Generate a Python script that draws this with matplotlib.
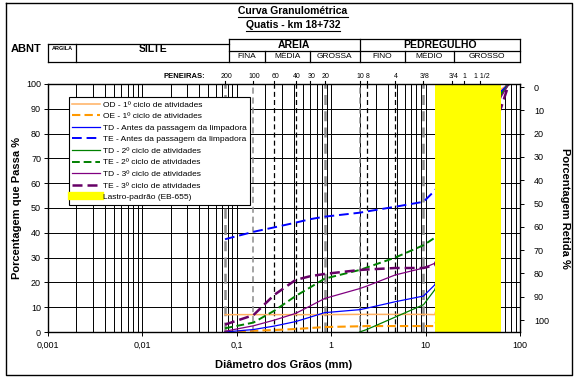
import numpy as np
import matplotlib
matplotlib.use('Agg')
import matplotlib.pyplot as plt
from matplotlib.lines import Line2D

plt.rcParams['font.family'] = ['Liberation Sans', 'DejaVu Sans']

# ---------------- data ----------------
sieve_mm = [0.075, 0.15, 0.25, 0.42, 0.6, 0.85, 2.0, 2.38, 4.76, 9.5, 12.5, 63.5, 76.2]
od1      = [7.0, 7.0, 7.0, 7.0, 7.0, 7.0, 7.1, 7.1, 7.1, 7.1, 7.0, 98, 100]
oe1      = [0.0, 0.5, 0.8, 1.2, 1.6, 2.0, 2.3, 2.4, 2.4, 2.4, 2.4, 97, 100]
td_antes = [0.0, 1.0, 2.4, 4.2, 6.0, 7.8, 9.0, 9.6, 12.2, 14.5, 19.0, 97, 100]
te_antes = [37.4, 40.4, 42.2, 44.1, 45.5, 46.5, 48.1, 48.6, 50.5, 52.5, 57.0, 97, 100]
td2      = [np.nan, np.nan, np.nan, np.nan, np.nan, np.nan, 0.0, 1.0, 6.0, 11.0, 17.0, 96, 100]
te2      = [1.5, 3.8, 8.6, 14.5, 18.0, 21.5, 25.0, 26.0, 30.0, 35.0, 38.0, 96, 100]
td3      = [0.3, 2.5, 4.8, 7.5, 10.5, 13.5, 17.5, 18.5, 23.0, 25.8, 27.7, 95, 100]
te3      = [3.0, 6.8, 15.0, 21.0, 22.5, 23.4, 25.0, 25.2, 25.8, 25.8, 27.0, 90.8, 100]

series_labels = ['OD - 1º ciclo de atividades', 'OE - 1º ciclo de atividades',
                 'TD - Antes da passagem da limpadora', 'TE - Antes da passagem da limpadora',
                 'TD - 2º ciclo de atividades', 'TE - 2º ciclo de atividades',
                 'TD - 3º ciclo de atividades', 'TE - 3º ciclo de atividades']
lastro_label = 'Lastro-padrão (EB-655)'
lastro_range = [12.5, 63.5]

sieve_names = ['200', '100', '60', '40', '30', '20', '10', '8', '4', '3/8', '3/4', '1', '1 1/2']
sieve_pos   = [0.075, 0.15, 0.25, 0.42, 0.6, 0.85, 2.0, 2.38, 4.76, 9.5, 19.1, 25.4, 38.1]
gray_dash   = [0.075, 0.15, 0.85, 2.0, 9.5]
gray_thick  = [0.075, 0.85, 9.5]
black_dash  = [0.25, 0.42, 2.38, 4.76]

x_ticks  = [0.001, 0.01, 0.1, 1, 10, 100]
x_labels = ['0,001', '0,01', '0,1', '1', '10', '100']

# ABNT classification limits (mm)
abnt_argila = [0.001, 0.002]
abnt_silte = [0.002, 0.083]
abnt_areia = [0.083, 0.2, 0.6, 2.0]
abnt_pedr = [2.0, 6.0, 20.0, 100.0]
areia_sub = ['FINA', 'MÉDIA', 'GROSSA']
pedr_sub = ['FINO', 'MÉDIO', 'GROSSO']

# ---------------- figure ----------------
W, H = 575, 377
fig = plt.figure(figsize=(W / 100, H / 100), dpi=100)
L, R, B, T = 48, 520, 332, 84
ax = fig.add_axes([L / W, 1 - B / H, (R - L) / W, (B - T) / H])
ax.set_xscale('log')
ax.set_xlim(0.001, 100)
ax.set_ylim(0, 100)

minor = [k * 10.0 ** n for n in range(-3, 2) for k in range(2, 10)]
ax.set_xticks(x_ticks)
ax.set_xticklabels(x_labels)
ax.set_xticks(minor, minor=True)
ax.xaxis.set_minor_formatter(matplotlib.ticker.NullFormatter())
ax.set_yticks(range(0, 101, 10))
for xv in x_ticks + minor:
    ax.axvline(xv, color='black', lw=0.7, zorder=1)
for yv in range(10, 101, 10):
    ax.axhline(yv, color='black', lw=0.7, zorder=1)

for xv in gray_dash:
    ax.axvline(xv, color='#8c8c8c', lw=1.8 if xv in gray_thick else 1.1,
               ls=(0, (4, 2.5)), zorder=2)
for xv in black_dash:
    ax.axvline(xv, color='black', lw=0.9, ls=(0, (4, 2.5)), zorder=2)

ax.tick_params(axis='both', which='major', labelsize=6.5, length=3, width=0.7)
ax.tick_params(axis='x', which='major', pad=3.5)
ax.tick_params(axis='x', which='minor', length=0)
ax.tick_params(axis='y', pad=2)

styles = [
    dict(color='#FFB060', lw=1.1, ls='-'),
    dict(color='#FF9900', lw=1.5, ls=(0, (4, 2))),
    dict(color='#0000FF', lw=0.9, ls='-'),
    dict(color='#0000FF', lw=1.4, ls=(0, (5, 2.5))),
    dict(color='#008000', lw=0.9, ls='-'),
    dict(color='#008000', lw=1.4, ls=(0, (4, 2))),
    dict(color='#800080', lw=0.9, ls='-'),
    dict(color='#660066', lw=1.8, ls=(0, (4, 2))),
]
data = [od1, oe1, td_antes, te_antes, td2, te2, td3, te3]
handles = []
for ys, st, lab in zip(data, styles, series_labels):
    ax.plot(sieve_mm, ys, zorder=3, clip_on=True, **st)
    handles.append(Line2D([], [], **st, label=lab))

ax.axvspan(lastro_range[0], lastro_range[1], color='#FFFF00', zorder=4, lw=0)
handles.append(Line2D([], [], color='#FFFF00', lw=6, label=lastro_label))

for sp in ax.spines.values():
    sp.set_linewidth(1.0)
    sp.set_zorder(6)

leg = ax.legend(handles=handles, loc='upper left', bbox_to_anchor=(0.044, 0.946),
                fontsize=6, frameon=True, fancybox=False, framealpha=1,
                edgecolor='black', borderpad=0.4, labelspacing=0.45,
                handlelength=3.4, handletextpad=0.25, borderaxespad=0)
leg.get_frame().set_linewidth(0.8)
leg.set_zorder(7)

ax.set_xlabel('Diâmetro dos Grãos (mm)', fontsize=8, fontweight='bold', labelpad=7)
ax.set_ylabel('Porcentagem que Passa %', fontsize=8, fontweight='bold', labelpad=3)

ax2 = ax.twinx()
ax2.set_ylim(105.15, -1.29)
ax2.set_yticks(range(0, 101, 10))
ax2.tick_params(axis='y', labelsize=6.5, length=3, width=0.7, pad=7)
ax2.set_ylabel('Porcentagem Retida %', fontsize=8, fontweight='bold', rotation=270, labelpad=15)
for sp in ax2.spines.values():
    sp.set_visible(False)

# ---------------- header overlay ----------------
ov = fig.add_axes([0, 0, 1, 1], zorder=10)
ov.set_xlim(0, W)
ov.set_ylim(H, 0)
ov.axis('off')
ov.patch.set_alpha(0)

def px(d):
    return ax.transData.transform((d, 50))[0]

# outer frame
ov.plot([6, 572, 572, 6, 6], [3, 3, 375, 375, 3], color='black', lw=1.0)

fig.canvas.draw()
renderer = fig.canvas.get_renderer()

def underlined(x, y, s, size):
    t = ov.text(x, y, s, ha='center', va='center', fontsize=size, fontweight='bold')
    bb = t.get_window_extent(renderer=renderer)
    yl = H - bb.y0 + 0.5
    ov.plot([bb.x0, bb.x1], [yl, yl], color='black', lw=0.8)

underlined(293, 11, 'Curva Granulométrica', 7.5)
underlined(293, 25.5, 'Quatis - km 18+732', 7.5)

y_top, y_mid, y_bot, y_top2 = 39, 50.5, 62, 44
x_arg0 = px(abnt_argila[0]); x_arg1 = px(abnt_argila[1])
x_sil1 = px(abnt_silte[1])
x_end = px(abnt_pedr[-1])
lw_t = 0.9
ov.text(26, 48.5, 'ABNT', ha='center', va='center', fontsize=8, fontweight='bold')
ov.plot([x_arg0, x_sil1], [y_top2, y_top2], color='black', lw=lw_t)
ov.plot([x_sil1, x_end], [y_top, y_top], color='black', lw=lw_t)
ov.plot([x_sil1, x_end], [y_mid, y_mid], color='black', lw=lw_t)
ov.plot([x_arg0, x_end], [y_bot, y_bot], color='black', lw=lw_t)
for xv in [x_arg0, x_arg1]:
    ov.plot([xv, xv], [y_top2, y_bot], color='black', lw=lw_t)
for xv in [x_sil1, px(abnt_areia[-1]), x_end]:
    ov.plot([xv, xv], [y_top, y_bot], color='black', lw=lw_t)
for xv in abnt_areia[1:-1] + abnt_pedr[1:-1]:
    ov.plot([px(xv), px(xv)], [y_mid, y_bot], color='black', lw=lw_t)
ov.text((x_arg0 + x_arg1) / 2, 48.5, 'ARGILA', ha='center', va='center', fontsize=4, fontweight='bold')
ov.text((x_arg1 + x_sil1) / 2, 49, 'SILTE', ha='center', va='center', fontsize=7.5, fontweight='bold')
ov.text((x_sil1 + px(2.0)) / 2, 45, 'AREIA', ha='center', va='center', fontsize=7.5, fontweight='bold')
ov.text((px(2.0) + x_end) / 2, 45, 'PEDREGULHO', ha='center', va='center', fontsize=7.5, fontweight='bold')
for i, s in enumerate(areia_sub):
    ov.text((px(abnt_areia[i]) + px(abnt_areia[i + 1])) / 2, 56.5, s, ha='center', va='center', fontsize=6)
for i, s in enumerate(pedr_sub):
    ov.text((px(abnt_pedr[i]) + px(abnt_pedr[i + 1])) / 2, 56.5, s, ha='center', va='center', fontsize=6)

ov.text(205, 76, 'PENEIRAS:', ha='right', va='center', fontsize=5.5, fontweight='bold')
for nm, d in zip(sieve_names, sieve_pos):
    xv = px(d)
    ov.text(xv + 1, 77, nm, ha='center', va='center', fontsize=5)
    ov.plot([xv, xv], [80.5, 84], color='black', lw=0.8)

fig.savefig('out.png', dpi=100)
